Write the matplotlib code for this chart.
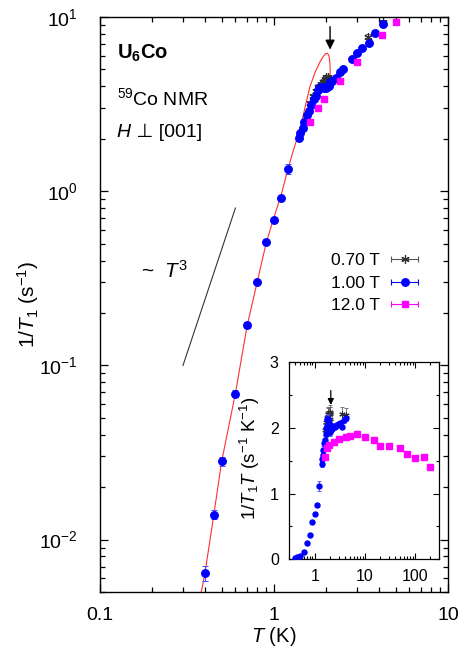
import numpy as np
import matplotlib
matplotlib.use('Agg')
import matplotlib.pyplot as plt
from matplotlib.lines import Line2D
from matplotlib.collections import LineCollection
from matplotlib.container import ErrorbarContainer
from matplotlib.legend_handler import HandlerErrorbar
from matplotlib.ticker import LogLocator, FixedLocator, MultipleLocator, NullFormatter, FixedFormatter

plt.rcParams['font.family'] = ['Liberation Sans', 'DejaVu Sans']
plt.rcParams['mathtext.fontset'] = 'custom'
plt.rcParams['mathtext.rm'] = 'Liberation Sans'
plt.rcParams['mathtext.it'] = 'Liberation Sans:italic'
plt.rcParams['mathtext.bf'] = 'Liberation Sans:bold'

# ---------------- data ----------------
# 1.00 T (blue circles): temperature (K), 1/T1 (s^-1), relative error
blue_T = [0.40, 0.45, 0.50, 0.60, 0.70, 0.80, 0.90, 1.00, 1.10, 1.20,
          1.40, 1.42, 1.46, 1.49, 1.54, 1.58, 1.64, 1.69, 1.74, 1.78,
          1.82, 1.86, 1.90, 1.94, 1.98, 2.02, 2.06, 2.10, 2.15, 2.26,
          2.39, 2.50, 2.80, 3.00, 3.20, 3.50, 3.80, 4.25]
blue_rate = [0.0064, 0.0139, 0.0282, 0.0689, 0.170, 0.302, 0.514, 0.687, 0.909, 1.345,
             2.03, 2.16, 2.31, 2.49, 2.73, 2.88, 3.14, 3.38, 3.54, 3.80,
             3.90, 3.95, 3.95, 3.93, 3.92, 3.95, 4.00, 4.22, 4.30, 4.49,
             4.84, 5.05, 5.72, 6.20, 6.62, 7.07, 8.07, 9.12]
blue_err = [0.10, 0.06, 0.06, 0.05, 0.04, 0.03, 0.03, 0.03, 0.03, 0.07,
            0.03, 0.03, 0.03, 0.03, 0.03, 0.03, 0.03, 0.03, 0.03, 0.03,
            0.03, 0.03, 0.03, 0.03, 0.03, 0.03, 0.03, 0.03, 0.03, 0.02,
            0.02, 0.02, 0.02, 0.02, 0.02, 0.02, 0.02, 0.02]

# 0.70 T (dark asterisks)
star_T = [1.62, 1.68, 1.74, 1.80, 1.86, 1.92, 1.97, 2.00, 2.03, 2.06, 2.10, 2.14, 3.48, 4.22]
star_rate = [3.20, 3.50, 3.75, 3.98, 4.12, 4.25, 4.38, 4.50, 4.50, 4.40, 4.30, 4.33, 7.71, 9.30]
star_err = [0.03] * 14

# 12.0 T (magenta squares)
mag_T = [1.60, 1.78, 1.95, 2.39, 3.0, 4.2, 5.0, 7.0, 10, 15, 20, 30, 50, 70, 100, 150, 200]
mag_rate = [2.49, 3.02, 3.40, 4.28, 5.50, 7.85, 9.40, 13.4, 18.7, 27.2, 34.6, 51.6,
            85.0, 112.0, 155.0, 234.0, 282.0]

# red fit curve
fit_T = [0.382, 0.40, 0.45, 0.50, 0.60, 0.70, 0.80, 0.90, 1.00, 1.10, 1.20, 1.30,
         1.41, 1.51, 1.61, 1.72, 1.84, 1.92, 1.98, 2.03, 2.07, 2.09, 2.10, 2.105, 2.11]
fit_rate = [0.005, 0.0063, 0.0137, 0.0280, 0.069, 0.168, 0.30, 0.50, 0.71, 0.95, 1.33, 1.75,
            2.25, 3.05, 3.99, 4.80, 5.54, 5.95, 6.15, 6.19, 6.0, 5.6, 5.2, 4.6, 4.3]

# T^3 guide line
guide_T = [0.3, 0.6]
guide_rate = [0.1, 0.8]

xtick_vals = [0.1, 1, 10]
xtick_labels = ['0.1', '1', '10']
inset_xticks = [1, 10, 100]
inset_xlabels = ['1', '10', '100']

BLUE = '#0000ff'
MAG = '#ff00ff'
STAR = '#303030'
RED = '#ff3030'

# ---------------- figure ----------------
fig = plt.figure(figsize=(4.73, 6.5), dpi=100)
ax = fig.add_axes([100/473, 1-592/650, 348/473, 575/650])
ax.set_xscale('log')
ax.set_yscale('log')
ax.set_xlim(0.1, 10)
ax.set_ylim(0.005, 10)

bT = np.array(blue_T); bR = np.array(blue_rate); bE = np.array(blue_err)
sT = np.array(star_T); sR = np.array(star_rate); sE = np.array(star_err)
mT = np.array(mag_T); mR = np.array(mag_rate)

ax.plot(guide_T, guide_rate, color='#333333', lw=0.8)
ax.plot(fit_T, fit_rate, color=RED, lw=0.8, zorder=2)
ax.errorbar(sT, sR, yerr=sR*sE, fmt='none', ecolor='#666666', elinewidth=0.7, capsize=2, capthick=0.7, zorder=3)
ax.plot(sT, sR, linestyle='none', marker=(6, 2, 0), ms=6, mec=STAR, mew=0.9, zorder=3)
ax.errorbar(bT, bR, yerr=bR*bE, fmt='o', color=BLUE, ms=5.4, mec=BLUE,
            ecolor='#4848ff', elinewidth=0.7, capsize=2.2, capthick=0.7, zorder=4)
ax.plot(mT, mR, linestyle='none', marker='s', ms=4.8, color=MAG, zorder=5)

ax.annotate('', xy=(2.10, 6.5), xytext=(2.10, 8.8),
            arrowprops=dict(arrowstyle='-|>', color='black', lw=1.0,
                            mutation_scale=14, shrinkA=0, shrinkB=0))

ax.text(0.172, 0.35, '~  $T^3$', fontsize=15, va='center', ha='left')
ax.text(0.048, 0.928, r'U$_\mathbf{6}$Co', transform=ax.transAxes, fontsize=14.5,
        fontweight='bold', va='baseline', ha='left')
ax.text(0.048, 0.846, r'$^{59}$Co NMR', transform=ax.transAxes, fontsize=14,
        va='baseline', ha='left')
th = ax.text(0.048, 0.784, 'H', transform=ax.transAxes, fontsize=14, fontstyle='italic',
             va='bottom', ha='left')
ax.annotate(' ⊥ [001]', xy=(1, 0), xycoords=th, fontsize=14, va='bottom', ha='left')

ax.xaxis.set_major_locator(FixedLocator(xtick_vals))
ax.xaxis.set_major_formatter(FixedFormatter(xtick_labels))
ax.xaxis.set_minor_locator(LogLocator(base=10, subs=np.arange(2, 10), numticks=20))
ax.xaxis.set_minor_formatter(NullFormatter())
ax.yaxis.set_minor_locator(LogLocator(base=10, subs=np.arange(2, 10), numticks=20))
ax.yaxis.set_minor_formatter(NullFormatter())
ax.tick_params(which='both', direction='in', top=True, right=True, width=0.9)
ax.tick_params(which='major', length=6, labelsize=14)
ax.tick_params(axis='x', which='major', pad=11)
ax.tick_params(axis='y', which='major', pad=16)
ax.tick_params(which='minor', length=3.5)
for s in ax.spines.values():
    s.set_linewidth(1.0)

ax.set_xlabel(r'$T$ (K)', fontsize=14.5)
ax.set_ylabel(r'1/$T_1$ (s$^{-1}$)', fontsize=15)
ax.xaxis.set_label_coords(0.50, -0.058)
ax.yaxis.set_label_coords(-0.17, 0.5)

# legend with horizontal error-bar handles
def eb_handle(color, marker, ms, ecolor, label, mew=1.0):
    ln = Line2D([], [], color=color, marker=marker, linestyle='none', markersize=ms,
                markeredgecolor=color, markerfacecolor=color, markeredgewidth=mew)
    cap = Line2D([], [], color=ecolor, marker='|', markersize=5, linestyle='none',
                 markeredgecolor=ecolor, markeredgewidth=0.8)
    bar = LineCollection([], colors=[ecolor], linewidths=0.8)
    return ErrorbarContainer((ln, (cap, cap), (bar,)), has_xerr=True, has_yerr=False, label=label)

handles = [eb_handle(STAR, (6, 2, 0), 6, '#555555', '0.70 T', mew=0.9),
           eb_handle(BLUE, 'o', 5.4, BLUE, '1.00 T'),
           eb_handle(MAG, 's', 4.8, MAG, '12.0 T')]
ax.legend(handles=handles, loc='upper right', bbox_to_anchor=(0.96, 0.617), frameon=False,
          markerfirst=False, fontsize=12.5, handlelength=1.6, handletextpad=0.6,
          labelspacing=0.43, borderpad=0.4,
          handler_map={ErrorbarContainer: HandlerErrorbar(xerr_size=0.78)})

# ---------------- inset ----------------
ax2 = fig.add_axes([288.5/473, 1-559.3/650, 150.5/473, 197/650])
ax2.set_facecolor('white')
ax2.set_xscale('log')
ax2.set_xlim(0.3, 300)
ax2.set_ylim(0, 3)
ax2.errorbar(sT, sR/sT, yerr=sR/sT*sE*1.5, fmt='none', ecolor='#666666', elinewidth=0.6,
             capsize=1.5, capthick=0.6, zorder=3)
ax2.plot(sT, sR/sT, linestyle='none', marker=(6, 2, 0), ms=4.5, mec=STAR, mew=0.8, zorder=3)
ax2.errorbar(bT, bR/bT, yerr=bR/bT*bE, fmt='o', color=BLUE, ms=3.6, mec=BLUE,
             ecolor='#4848ff', elinewidth=0.6, capsize=1.5, capthick=0.6, zorder=4)
ax2.plot(mT, mR/mT, linestyle='none', marker='s', ms=3.8, color=MAG, zorder=5)
ax2.annotate('', xy=(2.09, 2.35), xytext=(2.09, 2.57),
             arrowprops=dict(arrowstyle='-|>', color='black', lw=0.9,
                             mutation_scale=9, shrinkA=0, shrinkB=0))
ax2.xaxis.set_major_locator(FixedLocator(inset_xticks))
ax2.xaxis.set_major_formatter(FixedFormatter(inset_xlabels))
ax2.xaxis.set_minor_locator(LogLocator(base=10, subs=np.arange(2, 10), numticks=20))
ax2.xaxis.set_minor_formatter(NullFormatter())
ax2.yaxis.set_major_locator(MultipleLocator(1))
ax2.yaxis.set_minor_locator(MultipleLocator(0.5))
ax2.tick_params(which='both', direction='in', top=True, right=True, width=0.8)
ax2.tick_params(which='major', length=4.5, labelsize=11.5)
ax2.tick_params(axis='x', which='major', pad=7)
ax2.tick_params(axis='y', which='major', pad=7)
ax2.tick_params(which='minor', length=2.5)
for s in ax2.spines.values():
    s.set_linewidth(0.9)
ax2.set_ylabel(r'1/$T_1T$ (s$^{-1}$ K$^{-1}$)', fontsize=13.5)
ax2.yaxis.set_label_coords(-0.176, 0.514)

fig.savefig('out.png', dpi=100)
